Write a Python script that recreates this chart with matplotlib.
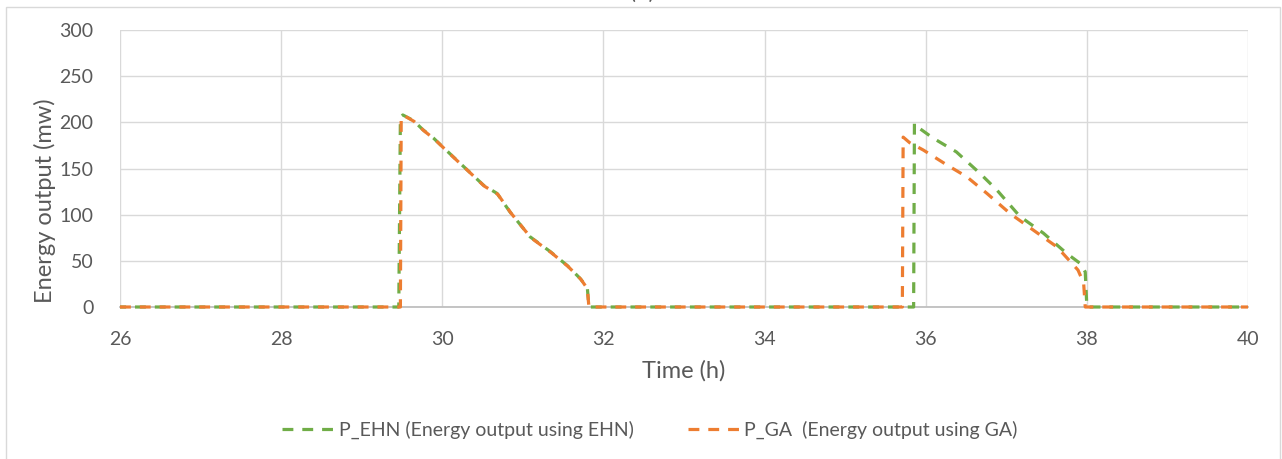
import matplotlib
matplotlib.use("Agg")
import matplotlib.pyplot as plt
from matplotlib.patches import Rectangle

# time (h) and energy output (mw)
t_ehn = [26, 29.46, 29.48, 29.51, 29.64, 29.76, 29.89, 30.01, 30.18, 30.34, 30.51,
         30.68, 30.84, 31.09, 31.34, 31.55, 31.71, 31.80, 31.82,
         35.85, 35.86, 35.93, 36.09, 36.38, 36.67, 36.88, 37.17, 37.46, 37.75,
         37.92, 37.98, 38.00, 40]
p_ehn = [0, 0, 205, 208, 202, 192, 183, 173, 159, 146, 132,
         123, 103, 76, 60, 45, 31, 21, 0,
         0, 199, 193, 183, 168, 145, 127, 98, 80, 58,
         47, 38, 0, 0]

t_ga = [26, 29.48, 29.49, 29.53, 29.65, 29.77, 29.90, 30.02, 30.19, 30.35, 30.52,
        30.69, 30.85, 31.10, 31.35, 31.56, 31.72, 31.80, 31.82,
        35.71, 35.72, 35.80, 35.97, 36.26, 36.51, 36.76, 37.05, 37.34, 37.63,
        37.89, 37.96, 37.98, 40]
p_ga = [0, 0, 206, 207, 201, 191, 182, 172, 158, 145, 131,
        122, 102, 75, 59, 44, 30, 20, 0,
        0, 184, 178, 170, 154, 141, 123, 101, 83, 65,
        40, 26, 0, 0]

labels = ["P_EHN (Energy output using EHN)", "P_GA  (Energy output using GA)"]
xticks = [26, 28, 30, 32, 34, 36, 38, 40]
yticks = [0, 50, 100, 150, 200, 250, 300]

green = "#70AD47"
orange = "#ED7D31"
txt = "#595959"
grid = "#D9D9D9"

plt.rcParams['font.family'] = ['Lato', 'DejaVu Sans']

W, H = 1282, 459
fig = plt.figure(figsize=(W / 100, H / 100), dpi=100)

# chart border
fig.patches.append(Rectangle((5.5 / W, -0.05), 1274 / W, 1.05 - 6.5 / H,
                             transform=fig.transFigure, fill=False,
                             edgecolor=grid, lw=1.0))

# title, mostly cut off at the top
fig.text(642 / W, 1 - 3 / H, "(b)", ha='center', va='bottom', fontsize=16, color=txt)

ax = fig.add_axes([120 / W, 1 - 307 / H, 1128 / W, 277 / H])

dash = (3.4, 2.8)
ax.plot(t_ehn, p_ehn, color=green, lw=2.3, ls=(1.5, dash), label=labels[0],
        clip_on=False, zorder=3)
ax.plot(t_ga, p_ga, color=orange, lw=2.3, ls=(0, dash), label=labels[1],
        clip_on=False, zorder=4)

ax.set_xlim(26, 40)
ax.set_ylim(0, 300)
ax.set_xticks(xticks)
ax.set_yticks(yticks)
ax.grid(True, color=grid, lw=1.0)
ax.set_axisbelow(True)
for s in ['top', 'right', 'left']:
    ax.spines[s].set_visible(False)
ax.spines['bottom'].set_color("#BFBFBF")
ax.spines['bottom'].set_linewidth(1.3)
ax.tick_params(length=0, labelsize=14, labelcolor=txt)
ax.tick_params(axis='y', pad=19)
ax.tick_params(axis='x', pad=17)

ax.set_xlabel("Time (h)", fontsize=17, color=txt)
ax.xaxis.set_label_coords(0.5, -(371 - 307) / 277)
ax.xaxis.label.set_va('center')
ax.set_ylabel("Energy output (mw)", fontsize=17, color=txt)
ax.yaxis.set_label_coords(-(120 - 45) / 1128, (307 - 201) / 277)
ax.yaxis.label.set_va('center')

leg = fig.legend(loc='center', bbox_to_anchor=(650 / W, 1 - 430 / H), ncol=2,
                 frameon=False, fontsize=14, labelcolor=txt, handlelength=2.6,
                 handletextpad=0.3, columnspacing=2.8)
leg.legend_handles[0].set_linestyle((0, dash))

fig.savefig("out.png", dpi=100)
